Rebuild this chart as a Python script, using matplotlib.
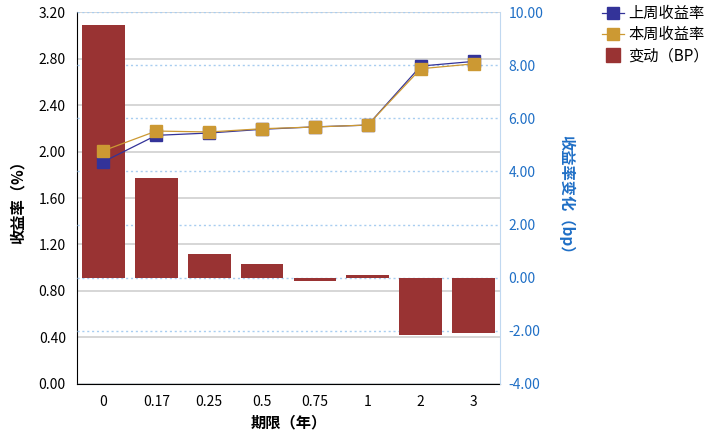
import matplotlib
matplotlib.use('Agg')
import matplotlib.pyplot as plt
from matplotlib.lines import Line2D
import numpy as np

plt.rcParams['font.family'] = ['Noto Sans CJK SC', 'DejaVu Sans']

terms = ['0', '0.17', '0.25', '0.5', '0.75', '1', '2', '3']
last_week = [1.912, 2.139, 2.159, 2.191, 2.212, 2.227, 2.735, 2.775]
this_week = [2.007, 2.176, 2.168, 2.196, 2.211, 2.228, 2.712, 2.754]
change_bp = [9.51, 3.75, 0.89, 0.52, -0.12, 0.10, -2.16, -2.08]

blue = '#333399'
gold = '#cc9933'
red = '#993333'
tick_blue = '#1f6fc6'

fig = plt.figure(figsize=(7.22, 4.40), dpi=100)
ax = fig.add_axes([0.1066, 0.1273, 0.586, 0.8454])
x = np.arange(len(terms))

# left axis: grid only
ax.set_ylim(0, 3.2)
ax.set_yticks(np.arange(0, 3.21, 0.4))
ax.set_yticklabels(['%.2f' % v for v in np.arange(0, 3.21, 0.4)], fontsize=10)
ax.yaxis.grid(True, color='#d0d0d0', linewidth=1.2)
ax.set_xlim(-0.5, len(terms) - 0.5)
ax.set_xticks(x)
ax.set_xticklabels(terms, fontsize=10)
ax.tick_params(length=0, pad=8)
ax.spines['top'].set_visible(False)
ax.spines['right'].set_visible(False)
ax.set_ylabel('收益率（%）', fontsize=11, fontweight='bold')
ax.yaxis.set_label_coords(-0.122, 0.5)
ax.set_xlabel('期限（年）', fontsize=11, fontweight='bold', labelpad=4)

# right axis: bars
ax2 = ax.twinx()
ax2.set_ylim(-4, 10)
ax2.set_yticks(np.arange(-4, 10.1, 2))
ax2.set_yticklabels(['%.2f' % v for v in np.arange(-4, 10.1, 2)], fontsize=10, color=tick_blue)
ax2.set_axisbelow(True)
ax2.yaxis.grid(True, color='#a8cdf0', linestyle=(0, (1.5, 2)), linewidth=1.0)
ax2.bar(x, change_bp, width=0.81, color=red, zorder=2)
ax2.tick_params(length=0, pad=6)
for s in ['top', 'left', 'bottom']:
    ax2.spines[s].set_visible(False)
ax2.spines['right'].set_color('#c0d8f0')
ax2.set_ylabel('收益率变化（bp）', fontsize=11, fontweight='bold', color=tick_blue,
               rotation=-90)
ax2.yaxis.set_label_coords(1.177, 0.5)

# lines on top, same scale as left axis
ax3 = ax.twinx()
ax3.set_ylim(ax.get_ylim())
ax3.axis('off')
l1, = ax3.plot(x, last_week, color=blue, marker='s', markersize=8.5, linewidth=0.9,
               label='上周收益率')
l2, = ax3.plot(x, this_week, color=gold, marker='s', markersize=8.5, linewidth=0.9,
               label='本周收益率')
bar_key = Line2D([], [], color=red, marker='s', markersize=9.5, linestyle='none',
                 label='变动（BP）')

fig.legend(handles=[l1, l2, bar_key], loc='upper left', bbox_to_anchor=(0.815, 1.02),
           frameon=False, fontsize=11, handlelength=1.4, handletextpad=0.3,
           labelspacing=0.28)

fig.savefig('out.png', dpi=100)
